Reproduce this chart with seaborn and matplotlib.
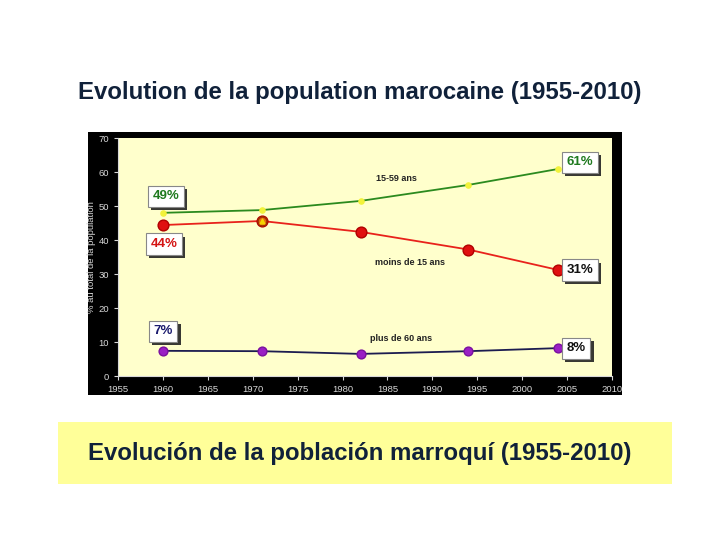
import matplotlib
matplotlib.use("Agg")
import matplotlib.pyplot as plt
import matplotlib.patheffects as pe
import numpy as np
import pandas as pd
import seaborn as sns
from matplotlib.patches import Rectangle

years = [1960, 1971, 1982, 1994, 2004]
adults = [48.0, 48.8, 51.5, 56.2, 60.9]      # 15-59 ans
young = [44.4, 45.6, 42.4, 37.2, 31.2]       # moins de 15 ans
seniors = [7.4, 7.3, 6.5, 7.3, 8.2]          # plus de 60 ans

box_labels = ["49%", "44%", "61%", "31%", "7%", "8%"]
box_x = [1960.3, 1960.1, 2006.4, 2006.4, 1960.0, 2006.0]
box_y = [52.9, 38.8, 62.9, 31.2, 13.2, 8.2]
box_colors = ["#1f7a1f", "#d41414", "#1f7a1f", "#111111", "#1a1a6e", "#111111"]

series_names = ["15-59 ans", "moins de 15 ans", "plus de 60 ans"]
name_x = [1986.0, 1987.5, 1986.5]
name_y = [58.0, 33.5, 11.0]

df = pd.DataFrame({
    "annee": years * 3,
    "pct": adults + young + seniors,
    "groupe": ["15-59 ans"] * 5 + ["moins de 15 ans"] * 5 + ["plus de 60 ans"] * 5,
})

sns.set_theme(style="white")
plt.rcParams["font.family"] = ["Liberation Sans", "DejaVu Sans"]

fig = plt.figure(figsize=(7.2, 5.4), dpi=100)
fig.patch.set_facecolor("white")

# black frame behind the chart picture
fig.patches.append(Rectangle((0.1222, 0.2685), 0.7417, 0.487, transform=fig.transFigure,
                             facecolor="black", edgecolor="none", zorder=-1))
# yellow caption box
fig.patches.append(Rectangle((0.0806, 0.1037), 0.853, 0.1148, transform=fig.transFigure,
                             facecolor="#FFFF99", edgecolor="none", zorder=-1))

fig.text(0.5, 0.828, "Evolution de la population marocaine (1955-2010)", ha="center",
         va="center", fontsize=17.3, fontweight="bold", color="#10213a")
fig.text(0.5, 0.161, "Evolución de la población marroquí (1955-2010)", ha="center",
         va="center", fontsize=17.3, fontweight="bold", color="#10213a")

ax = fig.add_axes([0.164, 0.3037, 0.686, 0.4407])
ax.set_zorder(2)
ax.set_facecolor("#FFFFCC")

line_colors = {"15-59 ans": "#2b8a1e", "moins de 15 ans": "#e8221b", "plus de 60 ans": "#1c1c50"}
sns.lineplot(data=df, x="annee", y="pct", hue="groupe", palette=line_colors, lw=1.3,
             legend=False, ax=ax)

ax.scatter(years, adults, s=14, color="#f2f23a", zorder=3)
ax.scatter(years, young, s=60, color="#e01010", edgecolor="#b00000", zorder=3)
ax.scatter([1971], [young[1]], s=40, color="#e86a10", edgecolor="#a03000", zorder=4)
ax.scatter([1971], [young[1]], s=12, color="#f5d400", marker="^", zorder=5)
ax.scatter(years, seniors, s=40, color="#9a1fc4", edgecolor="#7a10a0", zorder=3)

for lab, x, y, c in zip(box_labels, box_x, box_y, box_colors):
    t = ax.text(x, y, lab, ha="center", va="center", fontsize=9.5, fontweight="bold", color=c,
                bbox=dict(boxstyle="square,pad=0.35", fc="white", ec="#888888", lw=0.8), zorder=6)
    t.get_bbox_patch().set_path_effects([
        pe.SimplePatchShadow(offset=(2.5, -2.5), shadow_rgbFace="#222222", alpha=0.9),
        pe.Normal()])

for name, x, y in zip(series_names, name_x, name_y):
    ax.text(x, y, name, ha="center", va="center", fontsize=6.5, fontweight="bold", color="#222222")

ax.set_xlim(1955, 2010)
ax.set_ylim(0, 70)
ax.set_xticks(range(1955, 2011, 5))
ax.set_yticks(range(0, 71, 10))
ax.tick_params(axis="both", colors="#d8d8d8", labelsize=6.8, length=3, width=0.8,
               direction="out", bottom=True, left=True)
for side in ["top", "right"]:
    ax.spines[side].set_visible(False)
for side in ["left", "bottom"]:
    ax.spines[side].set_color("#d8d8d8")
    ax.spines[side].set_linewidth(0.8)
ax.set_xlabel("")
ax.set_ylabel("% au total de la population", fontsize=6.8, color="#d8d8d8", labelpad=2)

fig.savefig("out.png", dpi=100)
